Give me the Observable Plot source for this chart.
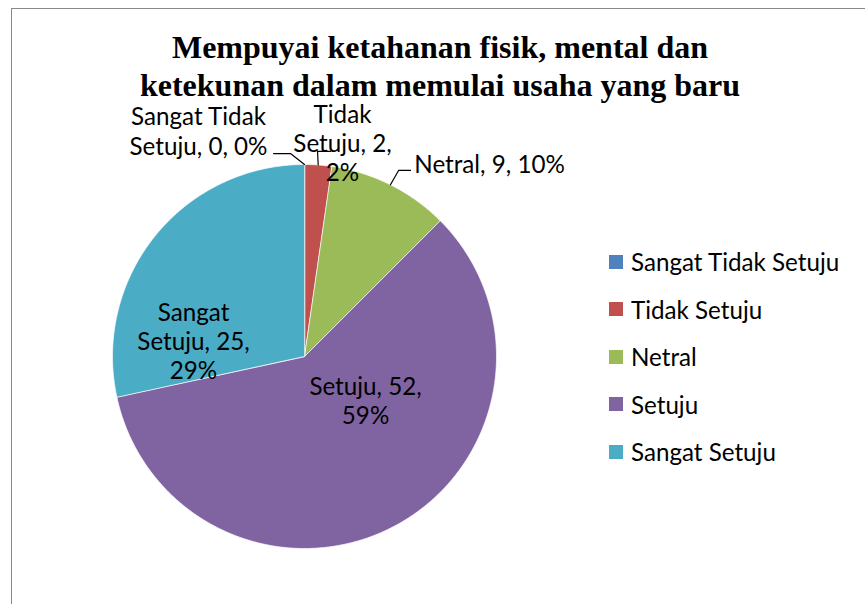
<!DOCTYPE html>
<html><head><meta charset="utf-8">
<script src="https://cdn.jsdelivr.net/npm/d3@7"></script>
<script src="https://cdn.jsdelivr.net/npm/@observablehq/plot@0.6"></script>
<style>
html,body{margin:0;padding:0;background:#fff;}
#wrap{position:relative;width:865px;height:604px;overflow:hidden;background:#fff;}
#frame{position:absolute;left:11px;top:8px;width:900px;height:700px;border-left:1.5px solid #8a8a8a;border-top:1.5px solid #8a8a8a;}
#title{position:absolute;left:40px;width:800px;top:28px;text-align:center;font-family:"Liberation Serif","Times New Roman",serif;font-weight:bold;font-size:32px;line-height:38px;color:#000;}
#chart{position:absolute;left:0;top:0;}
#legend{position:absolute;left:609px;top:238px;color:#000;}
.row{display:flex;align-items:center;height:47.5px;white-space:nowrap;}
.sw{width:14px;height:14px;margin-right:8px;flex:none;}
</style>
</head><body>
<div id="wrap"><div id="frame"></div><div id="chart"></div><div id="title">Mempuyai ketahanan fisik, mental dan<br>ketekunan dalam memulai usaha yang baru</div><div id="legend"></div></div>
<script>
const categories = ["Sangat Tidak Setuju", "Tidak Setuju", "Netral", "Setuju", "Sangat Setuju"];
const counts = [0, 2, 9, 52, 25];
const percents = [0, 2, 10, 59, 29];
const labelTexts = ["Sangat Tidak\nSetuju, 0, 0%", "Tidak\nSetuju, 2,\n2%", "Netral, 9, 10%", "Setuju, 52,\n59%", "Sangat\nSetuju, 25,\n29%"];
const colors = ["#4F81BD", "#C0504D", "#9BBB59", "#8064A2", "#4BACC6"];

// layout (in pie-radius units)
const labelPos = [[-0.552, 1.177], [0.198, 1.115], [0.964, 1.005], [0.318, -0.229], [-0.578, 0.083]];
const leaderElbows = [[[-0.073, 1.057], [-0.161, 1.057]], [[0.068, 1.068], [0.135, 1.068]], [[0.49, 0.969], [0.552, 0.969]], null, null];

const FONT = "Lato, 'Noto Sans', sans-serif";
const ctx = document.createElement("canvas").getContext("2d");
ctx.font = "100px " + FONT;
const fs = 100 * 209 / ctx.measureText("Sangat Tidak Setuju").width;

const data = categories.map((c, i) => ({cat: c, count: counts[i]}));
const arcs = d3.pie().sort(null).value(d => d.count)(data);

const slicePts = [];
arcs.forEach(a => {
  const span = a.endAngle - a.startAngle;
  if (span <= 0) return;
  slicePts.push({cat: a.data.cat, x: 0, y: 0});
  const n = Math.max(2, Math.ceil(span / (Math.PI / 360)));
  for (let k = 0; k <= n; k++) {
    const t = a.startAngle + span * k / n;
    slicePts.push({cat: a.data.cat, x: Math.sin(t), y: Math.cos(t)});
  }
});

const labels = arcs.map((a, i) => ({text: labelTexts[i], x: labelPos[i][0], y: labelPos[i][1]}));
const leaders = [];
arcs.forEach((a, i) => {
  if (!leaderElbows[i]) return;
  const m = (a.startAngle + a.endAngle) / 2;
  leaders.push({id: i, x: Math.sin(m), y: Math.cos(m)});
  leaderElbows[i].forEach(p => leaders.push({id: i, x: p[0], y: p[1]}));
});

const chart = Plot.plot({
  width: 865, height: 604,
  style: {background: "transparent", fontFamily: FONT},
  x: {domain: [-1, 1], range: [112, 496], axis: null},
  y: {domain: [-1, 1], range: [548, 164], axis: null},
  color: {domain: categories, range: colors},
  marks: [
    Plot.line(slicePts, {x: "x", y: "y", z: "cat", fill: "cat", stroke: "#ffffff", strokeWidth: 0.7, curve: "linear-closed"}),
    Plot.line(leaders, {x: "x", y: "y", z: "id", stroke: "#000", strokeWidth: 1.2, curve: "linear"}),
    Plot.text(labels, {x: "x", y: "y", text: "text", fontSize: fs, lineHeight: 1.21, fill: "#000", fontFamily: FONT})
  ]
});
document.getElementById("chart").appendChild(chart);

const leg = document.getElementById("legend");
leg.style.fontFamily = FONT;
leg.style.fontSize = fs + "px";
categories.forEach((c, i) => {
  const r = document.createElement("div"); r.className = "row";
  const s = document.createElement("div"); s.className = "sw"; s.style.background = colors[i];
  const t = document.createElement("span"); t.textContent = c;
  r.appendChild(s); r.appendChild(t); leg.appendChild(r);
});
</script>
</body></html>
